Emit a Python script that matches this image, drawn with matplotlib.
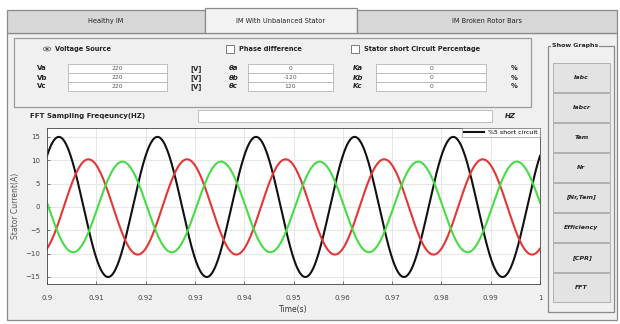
import numpy as np
import matplotlib
matplotlib.use("Agg")
import matplotlib.pyplot as plt
from matplotlib.patches import Rectangle, Circle

# ---- data ----
t_start, t_end = 0.9, 1.0
freq_hz = 50.0
amplitudes = [15.0, 10.2, 9.7]          # peak current of the three phases (A)
peak_times_ms = [2.4, 8.4, 15.3]        # time of first peak after 0.9 s (ms)
line_colors = ["#111111", "#e53535", "#45dc45"]
legend_labels = ["%5 short circuit"]

x_ticks = [0.9, 0.91, 0.92, 0.93, 0.94, 0.95, 0.96, 0.97, 0.98, 0.99, 1.0]
x_tick_labels = ["0.9", "0.91", "0.92", "0.93", "0.94", "0.95", "0.96", "0.97", "0.98", "0.99", "1"]
y_ticks = [-15, -10, -5, 0, 5, 10, 15]

tab_names = ["Healthy IM", "IM With Unbalanced Stator", "IM Broken Rotor Bars"]
volt_labels = ["Va", "Vb", "Vc"]
volt_values = ["220", "220", "220"]
angle_labels = ["\u03b8a", "\u03b8b", "\u03b8c"]
angle_values = ["0", "-120", "120"]
k_labels = ["Ka", "Kb", "Kc"]
k_values = ["0", "0", "0"]
button_labels = ["Iabc", "Iabcr", "Tem", "Nr", "[Nr,Tem]", "Efficiency", "[CPR]", "FFT"]

W, H = 620, 324
fig = plt.figure(figsize=(W / 100, H / 100), dpi=100)
fig.patch.set_facecolor("white")


def fx(x):
    return x / W


def fy(y):
    return 1 - y / H


def rect(x0, y0, x1, y1, fc="none", ec="#a0a0a0", lw=0.8, z=1):
    r = Rectangle((fx(x0), fy(y1)), fx(x1) - fx(x0), fy(y0) - fy(y1),
                  transform=fig.transFigure, facecolor=fc, edgecolor=ec,
                  linewidth=lw, zorder=z)
    fig.add_artist(r)
    return r


def txt(x, y, s, size=5, ha="left", weight="normal", style="normal", color="#222222", z=5, bg=None):
    kw = {}
    if bg is not None:
        kw["bbox"] = dict(facecolor=bg, edgecolor="none", pad=0.5)
    fig.text(fx(x), fy(y), s, fontsize=size, ha=ha, va="center",
             fontweight=weight, fontstyle=style, color=color, zorder=z,
             family=["DejaVu Sans"], **kw)


# main tab body
rect(7, 33, 617, 320, fc="#f0f0f0", ec="#8a8a8a", lw=0.9, z=0)
# tabs
tab_x = [7, 205, 357, 617]
for i, name in enumerate(tab_names):
    sel = (i == 1)
    y0 = 8 if sel else 10
    rect(tab_x[i], y0, tab_x[i + 1], 33, fc="#f3f3f3" if sel else "#d7d7d7",
         ec="#8a8a8a", lw=0.9, z=1)
    txt((tab_x[i] + tab_x[i + 1]) / 2, 21, name, size=4.8, ha="center")

# parameter panel
rect(14, 38, 531, 107, fc="#f0f0f0", ec="#9a9a9a", lw=0.9, z=1)
fig.add_artist(Circle((fx(47), fy(49)), 0.006, transform=fig.transFigure,
                      facecolor="white", edgecolor="#666666", lw=0.6, zorder=3))
fig.add_artist(Circle((fx(47), fy(49)), 0.0028, transform=fig.transFigure,
                      facecolor="#333333", edgecolor="none", zorder=4))
txt(55, 49, "Voltage Source", size=4.8, weight="bold")
rect(226, 45, 234, 53, fc="white", ec="#666666", lw=0.6, z=3)
txt(239, 49, "Phase difference", size=4.8, weight="bold")
rect(351, 45, 359, 53, fc="white", ec="#666666", lw=0.6, z=3)
txt(364, 49, "Stator short Circuit Percentage", size=4.8, weight="bold")

row_y = [68.5, 77.5, 86.5]
for i in range(3):
    y = row_y[i]
    txt(37, y, volt_labels[i], size=5, weight="bold")
    rect(68, y - 4.3, 167, y + 4.3, fc="white", ec="#b5b5b5", lw=0.6, z=3)
    txt(117.5, y, volt_values[i], size=4.3, ha="center", color="#555555")
    txt(190, y, "[V]", size=4.8, weight="bold")
    txt(229, y, angle_labels[i], size=5, weight="bold", style="italic")
    rect(248, y - 4.3, 333, y + 4.3, fc="white", ec="#b5b5b5", lw=0.6, z=3)
    txt(290.5, y, angle_values[i], size=4.3, ha="center", color="#555555")
    txt(353, y, k_labels[i], size=5, weight="bold", style="italic")
    rect(376, y - 4.3, 486, y + 4.3, fc="white", ec="#b5b5b5", lw=0.6, z=3)
    txt(431, y, k_values[i], size=4.3, ha="center", color="#555555")
    txt(511, y, "%", size=4.8, weight="bold")

txt(30, 116, "FFT Sampling Freqeuncy(HZ)", size=5, weight="bold")
rect(198, 110, 492, 122, fc="white", ec="#b5b5b5", lw=0.6, z=3)
txt(505, 116, "HZ", size=5, weight="bold", style="italic")

# show graphs panel
rect(548, 46, 614, 312, fc="#f0f0f0", ec="#8a8a8a", lw=0.9, z=1)
txt(552, 46, "Show Graphs", size=4.5, weight="bold", bg="#f0f0f0")
for i, lab in enumerate(button_labels):
    y0 = 63 + i * 30
    rect(553, y0, 610, y0 + 29, fc="#e3e3e3", ec="#b0b0b0", lw=0.7, z=3)
    txt(581.5, y0 + 14.5, lab, size=4.5, ha="center", weight="bold", style="italic")

# ---- chart ----
ax = fig.add_axes([fx(47), fy(284), fx(540) - fx(47), fy(128) - fy(284)])
ax.set_facecolor("white")
t = np.linspace(t_start, t_end, 2001)
for amp, pk, col in zip(amplitudes, peak_times_ms, line_colors):
    i_t = amp * np.cos(2 * np.pi * freq_hz * (t - t_start - pk / 1000.0))
    ax.plot(t, i_t, color=col, lw=1.5)
ax.set_xlim(t_start, t_end)
ax.set_ylim(-16.5, 16.9)
ax.set_xticks(x_ticks)
ax.set_xticklabels(x_tick_labels)
ax.set_yticks(y_ticks)
ax.grid(True, color="#e2e2e2", lw=0.6)
ax.tick_params(axis="x", pad=8)
ax.tick_params(axis="y", pad=5)
ax.tick_params(direction="in", labelsize=5, length=2.5, width=0.5, colors="#444444")
for s in ax.spines.values():
    s.set_linewidth(0.6)
    s.set_color("#444444")
ax.set_xlabel("Time(s)", fontsize=5.5, labelpad=3, color="#333333")
ax.set_ylabel("Stator Current(A)", fontsize=5.5, labelpad=4, color="#555555")
leg = ax.legend([ax.lines[0]], legend_labels, loc="upper right", fontsize=4.5,
                frameon=True, fancybox=False, borderpad=0.3, handlelength=3.2,
                borderaxespad=0.0, edgecolor="#888888")
leg.get_frame().set_linewidth(0.5)

fig.savefig("out.png", dpi=100, facecolor="white")
